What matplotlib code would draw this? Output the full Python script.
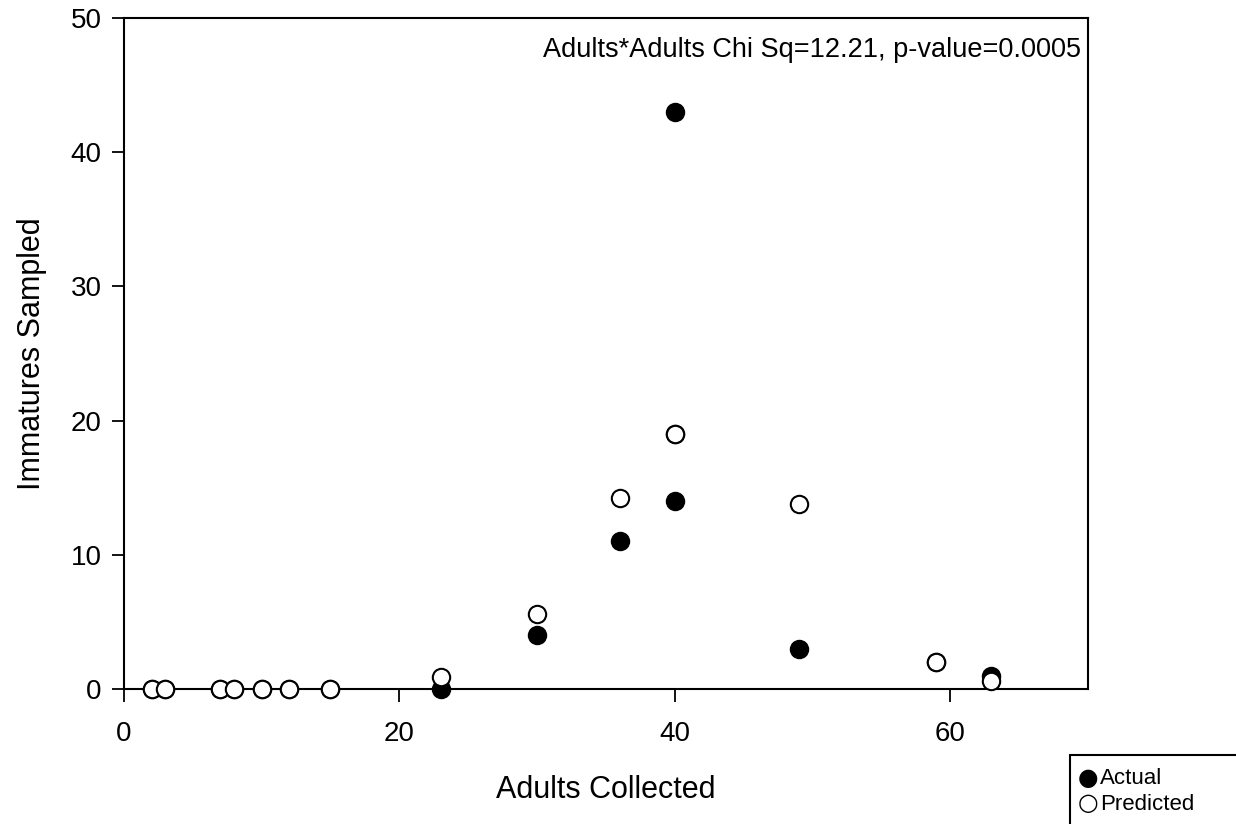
import matplotlib.pyplot as plt
from matplotlib.patches import Rectangle

plt.rcParams['font.family'] = ['Liberation Sans', 'DejaVu Sans']

adults = [2, 3, 7, 8, 10, 12, 15, 23, 30, 36, 40, 40, 49, 59, 63]
actual = [0, 0, 0, 0, 0, 0, 0, 0, 4, 11, 14, 43, 3, 2, 1]
predicted = [0, 0, 0, 0, 0, 0, 0, 0.9, 5.6, 14.2, 19.0, 19.0, 13.8, 2.0, 0.6]

fig = plt.figure(figsize=(12.36, 8.24), dpi=100)
ax = fig.add_axes([0.1003, 0.1638, 0.7797, 0.8142])

ax.plot(adults, actual, 'o', color='k', markersize=12.5, markeredgewidth=1.5, zorder=3)
ax.plot(adults, predicted, 'o', markerfacecolor='white', markeredgecolor='k',
        markersize=12.5, markeredgewidth=1.5, zorder=4)

ax.set_xlim(0, 70)
ax.set_ylim(0, 50)
ax.set_xticks([0, 20, 40, 60])
ax.set_yticks([0, 10, 20, 30, 40, 50])
ax.tick_params(direction='out', length=9, width=1.3, labelsize=20,
               top=False, right=False)
ax.tick_params(axis='x', pad=14)
ax.tick_params(axis='y', pad=7)
for s in ax.spines.values():
    s.set_linewidth(1.5)
for c in ax.lines:
    c.set_clip_on(False)

ax.set_xlabel('Adults Collected', fontsize=22, labelpad=20)
ax.set_ylabel('Immatures Sampled', fontsize=22, labelpad=17)
ax.text(0.993, 0.952, 'Adults*Adults Chi Sq=12.21, p-value=0.0005', transform=ax.transAxes,
        ha='right', va='center', fontsize=19.5)

# legend box at bottom right
fig.patches.append(Rectangle((1070 / 1236, -0.01), 0.2, 1 - 755 / 824 + 0.01,
                             transform=fig.transFigure, fill=False, edgecolor='k',
                             linewidth=1.5))
fig.text(1078 / 1236, 1 - 778 / 824, '●', fontsize=17, va='center', family='DejaVu Sans')
fig.text(1078 / 1236, 1 - 803 / 824, '○', fontsize=17, va='center', family='DejaVu Sans')
fig.text(1100 / 1236, 1 - 779 / 824, 'Actual', fontsize=16, va='center')
fig.text(1100 / 1236, 1 - 804 / 824, 'Predicted', fontsize=16, va='center')

fig.savefig('out.png', dpi=100)
